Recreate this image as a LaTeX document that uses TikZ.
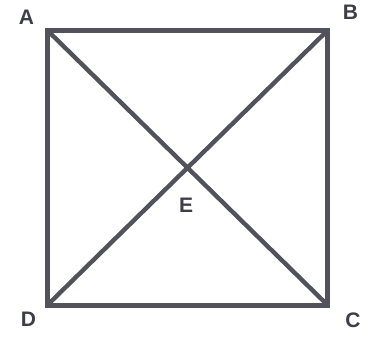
\documentclass[tikz,border=0pt]{standalone}
\usepackage{fontspec}
\setmainfont{Liberation Sans}
\usepackage{tikz}
\usetikzlibrary{calc,positioning}
\definecolor{edgegray}{RGB}{82,82,92}
\definecolor{labelgray}{RGB}{62,62,72}

\begin{document}
\begin{tikzpicture}[x=0.5pt,y=-0.5pt]
  \useasboundingbox (0,0) rectangle (367,339);
  \coordinate (A) at (47.5,30.5);
  \coordinate (B) at (327.5,30.5);
  \coordinate (C) at (327.5,305);
  \coordinate (D) at (47.5,305);
  \draw[edgegray,line width=2.5pt] (A) -- (B) -- (C) -- (D) -- cycle;
  \draw[edgegray,line width=2.2pt] (A) -- (C) (B) -- (D);
  \foreach \p/\x/\y in {A/26.5/17,B/350.5/12.5,C/353/320,D/28.5/319,E/186/205.5}{
    \node[font=\fontsize{10.5}{12}\selectfont\bfseries,text=labelgray,inner sep=0pt] (l\p) at (\x,\y) {\p};
  }
\end{tikzpicture}
\end{document}
